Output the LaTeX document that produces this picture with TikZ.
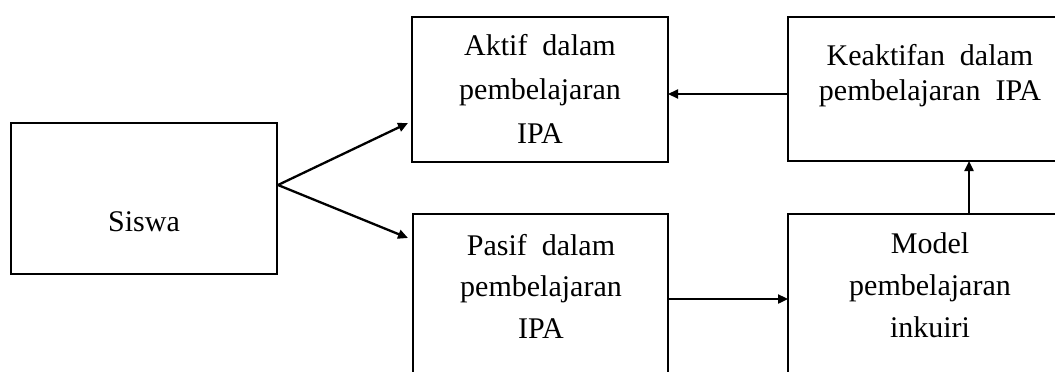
\documentclass[tikz,border=0pt]{standalone}
\usepackage{fontspec}
\setmainfont{Liberation Serif}
\usetikzlibrary{arrows.meta}
\tikzset{
  box/.style={draw, line width=2pt, inner sep=0pt, outer sep=0pt},
  txt/.style={align=center, inner sep=0pt, font=\fontsize{30}{#1}\selectfont},
  txt/.default=43,
  arr/.style={line width=2.3pt, -{Triangle[length=10pt,width=9pt]}},
}
\newcommand{\wsp}{\hspace{0.5em}}
\begin{document}
\begin{tikzpicture}[x=1pt,y=-1pt]
\useasboundingbox (0,0) rectangle (1055,372);
\clip (0,0) rectangle (1055,372);

% boxes
\node[box, minimum width=266pt, minimum height=151pt] (siswa) at (144,198.5) {};
\node[box, minimum width=256pt, minimum height=145pt] (aktif) at (540,89.5) {};
\node[box, minimum width=362pt, minimum height=144pt] (keak) at (969,89) {};
\node[box, minimum width=255pt, minimum height=170pt] (pasif) at (540.5,299) {};
\node[box, minimum width=362pt, minimum height=170pt] (model) at (969,299) {};

% texts
\node[txt] (tsiswa) at (144,222) {Siswa};
\node[txt=44] (taktif) at (540,88.8) {Aktif\wsp dalam\\pembelajaran\\IPA};
\node[txt=35] (tkeak) at (930,75.5) {Keaktifan\wsp dalam\\pembelajaran\wsp IPA};
\node[txt=41.5] (tpasif) at (541,286.3) {Pasif\wsp dalam\\pembelajaran\\IPA};
\node[txt=42] (tmodel) at (930,284.8) {Model\\pembelajaran\\inkuiri};

% connectors
\coordinate (fork) at (278,185);
\draw[arr] (fork) -- ([xshift=-4pt,yshift=39pt]aktif.south west);
\draw[arr] (fork) -- ([xshift=-5pt,yshift=-24pt]pasif.north west);
\draw[arr] ([yshift=-5pt]keak.west) -- ([yshift=-4.5pt]aktif.east);
\draw[arr] (pasif.east) -- (model.west);
\draw[arr] (model.north) -- (keak.south);
\end{tikzpicture}
\end{document}
